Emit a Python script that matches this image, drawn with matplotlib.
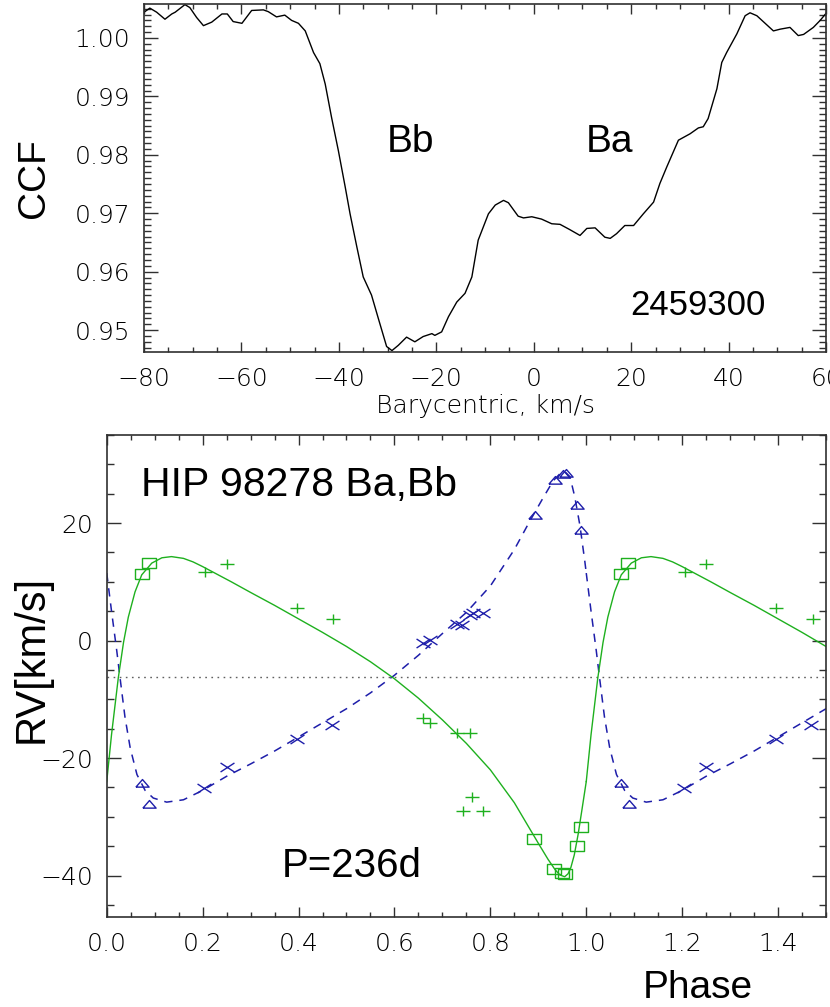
import numpy as np
import matplotlib
matplotlib.use('Agg')
from matplotlib import pyplot as plt
from matplotlib.path import Path
from matplotlib.ticker import MultipleLocator, FormatStrFormatter

# CCF profile (velocity in km/s, CCF value)
ccf_v = [-80.0, -78.8, -77.4, -75.7, -74.3, -73.6, -71.6, -70.6, -69.2, -67.8,
         -66.1, -64.0, -62.9, -61.7, -59.9, -57.9, -55.5, -54.5, -52.8, -51.1,
         -49.7, -48.3, -46.9, -45.2, -43.9, -42.8, -41.5, -40.1, -38.7, -37.7,
         -36.3, -35.0, -33.3, -31.9, -30.2, -29.1, -27.8, -26.1, -24.4, -22.7,
         -20.9, -20.3, -18.9, -17.5, -15.8, -14.1, -12.7, -11.4, -9.3, -7.9,
         -6.2, -5.2, -3.2, -2.1, -0.4, 1.6, 3.7, 5.4, 7.4, 9.5,
         10.9, 12.6, 14.6, 15.7, 17.0, 18.7, 20.5, 22.5, 24.6, 25.9,
         27.3, 29.7, 32.1, 33.8, 34.8, 35.8, 37.6, 38.6, 39.6, 41.7,
         43.4, 44.4, 45.8, 49.2, 50.6, 52.6, 54.3, 55.4, 57.4, 58.8,
         60.0]
ccf_val = [1.0044, 1.0051, 1.0044, 1.0032, 1.0041, 1.0044, 1.0057, 1.0052, 1.0035, 1.0021,
           1.0027, 1.0041, 1.0041, 1.0028, 1.0025, 1.0047, 1.0048, 1.0045, 1.0036, 1.0039,
           1.0030, 1.0025, 1.0012, 0.9975, 0.9956, 0.9921, 0.9864, 0.9807, 0.9745, 0.9699,
           0.9642, 0.9591, 0.9560, 0.9520, 0.9472, 0.9465, 0.9474, 0.9488, 0.9480, 0.9489,
           0.9494, 0.9491, 0.9497, 0.9523, 0.9548, 0.9563, 0.9591, 0.9654, 0.9699, 0.9714,
           0.9722, 0.9718, 0.9695, 0.9692, 0.9694, 0.9690, 0.9682, 0.9681, 0.9672, 0.9662,
           0.9674, 0.9675, 0.9659, 0.9657, 0.9665, 0.9679, 0.9679, 0.9699, 0.9719, 0.9751,
           0.9779, 0.9825, 0.9836, 0.9846, 0.9848, 0.9862, 0.9913, 0.9958, 0.9975, 1.0007,
           1.0038, 1.0043, 1.0038, 1.0012, 1.0015, 1.0018, 1.0004, 1.0006, 1.0018, 1.0030,
           1.0042]

# orbit curves over one cycle (phase, RV km/s), Ba solid green, Bb dashed blue
ba_phase = [0.000, 0.010, 0.024, 0.035, 0.045, 0.059, 0.073, 0.094, 0.115, 0.135,
            0.160, 0.180, 0.200, 0.230, 0.260, 0.300, 0.350, 0.400, 0.450, 0.500,
            0.550, 0.600, 0.650, 0.700, 0.750, 0.800, 0.850, 0.900, 0.920, 0.935,
            0.945, 0.955, 0.962, 0.968, 0.975, 0.983, 0.991, 1.000]
ba_rv = [-24.0, -16.0, -6.4, -0.3, 4.0, 8.3, 11.2, 13.2, 14.1, 14.3,
         14.0, 13.4, 12.6, 11.3, 10.0, 8.2, 6.0, 3.7, 1.4, -1.0,
         -3.6, -6.5, -9.8, -13.5, -17.5, -22.0, -27.6, -34.5, -37.2, -39.0,
         -39.9, -40.2, -39.7, -38.6, -36.5, -33.0, -28.8, -24.0]
bb_phase = [0.000, 0.010, 0.021, 0.028, 0.038, 0.049, 0.063, 0.080, 0.097, 0.125,
            0.160, 0.200, 0.250, 0.300, 0.350, 0.400, 0.450, 0.500, 0.550, 0.600,
            0.650, 0.700, 0.750, 0.800, 0.850, 0.882, 0.910, 0.931, 0.945, 0.955,
            0.966, 0.976, 0.987, 0.997, 1.000]
bb_rv = [11.5, 5.0, -1.8, -6.5, -13.0, -18.3, -22.8, -25.5, -26.8, -27.5,
         -27.1, -25.5, -23.1, -21.0, -18.8, -16.4, -14.0, -11.6, -8.9, -5.9,
         -2.5, 1.2, 4.8, 9.3, 15.5, 20.3, 24.3, 27.2, 28.4, 28.8,
         27.9, 24.5, 19.5, 13.5, 11.5]
gamma = -6.2

# measured velocities
sq_phase = [0.073, 0.088, 0.891, 0.933, 0.950, 0.955, 0.980, 0.989]
sq_rv = [11.3, 13.2, -33.7, -38.9, -39.6, -39.8, -35.0, -31.7]
tri_phase = [0.073, 0.089, 0.893, 0.935, 0.952, 0.957, 0.980, 0.990]
tri_rv = [-24.3, -27.8, 21.4, 27.4, 28.4, 28.6, 23.1, 18.9]
plus_phase = [0.205, 0.250, 0.396, 0.472, 0.660, 0.675, 0.730, 0.757, 0.742, 0.761, 0.785]
plus_rv = [11.6, 13.0, 5.6, 3.6, -13.2, -14.1, -15.7, -15.7, -29.0, -26.6, -29.0]
cross_phase = [0.203, 0.250, 0.396, 0.469, 0.660, 0.674, 0.730, 0.740, 0.757, 0.764, 0.785]
cross_rv = [-25.1, -21.5, -16.8, -14.4, -0.4, 0.1, 2.8, 2.7, 4.4, 4.7, 4.7]

green = '#1eb01e'
blue = '#1e1eaa'
frame = '#303030'
tickfont = dict(family='DejaVu Sans', weight='light')
bigfont = dict(family='Liberation Sans')

plt.rcParams['lines.scale_dashes'] = False
plt.rcParams['axes.edgecolor'] = frame
plt.rcParams['axes.linewidth'] = 1.2

# IDL-like plot symbols
rect = Path([(-1.3, -0.9), (1.3, -0.9), (1.3, 0.9), (-1.3, 0.9), (-1.3, -0.9)])
tri = Path([(-1.0, -0.55), (1.0, -0.55), (0.0, 0.6), (-1.0, -0.55)])
plus = Path([(-1, 0), (1, 0), (0, -0.8), (0, 0.8)],
            [Path.MOVETO, Path.LINETO, Path.MOVETO, Path.LINETO])
cross = Path([(-1, -0.65), (1, 0.65), (-1, 0.65), (1, -0.65)],
             [Path.MOVETO, Path.LINETO, Path.MOVETO, Path.LINETO])

fig = plt.figure(figsize=(8.3, 10.07), dpi=100)

# top panel: cross-correlation function
ax1 = fig.add_axes([0.1735, 0.6507, 0.8217, 0.3453])
ax1.plot(ccf_v, ccf_val, color='black', lw=1.0)
ax1.set_xlim(-80, 60)
ax1.set_ylim(0.9463, 1.0058)
ax1.xaxis.set_major_locator(MultipleLocator(20))
ax1.xaxis.set_minor_locator(MultipleLocator(5))
ax1.yaxis.set_major_locator(MultipleLocator(0.01))
ax1.yaxis.set_minor_locator(MultipleLocator(0.001))
ax1.yaxis.set_major_formatter(FormatStrFormatter('%.2f'))
ax1.tick_params(axis='x', which='major', length=7, pad=11)
ax1.tick_params(axis='x', which='minor', length=3.5)
ax1.tick_params(axis='y', which='major', length=10, pad=10)
ax1.tick_params(axis='y', which='minor', length=5)
ax1.set_xlabel('Barycentric, km/s', fontsize=18, **tickfont)
ax1.xaxis.set_label_coords(0.5, -0.122)
ax1.set_ylabel('CCF', fontsize=28, va='center', **bigfont)
ax1.yaxis.set_label_coords(-0.161, 0.5)
ax1.text(-25.2, 0.9805, 'Bb', fontsize=28, ha='center', va='baseline', **bigfont)
ax1.text(15.5, 0.9805, 'Ba', fontsize=28, ha='center', va='baseline', **bigfont)
ax1.text(33.8, 0.9526, '2459300', fontsize=25, ha='center', va='baseline', **bigfont)

# bottom panel: radial velocity curve, phase 0..1.5
ax2 = fig.add_axes([0.1286, 0.0897, 0.8666, 0.4783])
ax2.axhline(gamma, color='#606060', lw=1.0, dashes=(1.2, 3.2))
for shift in (0, 1):
    ax2.plot(np.array(bb_phase) + shift, bb_rv, color=blue, lw=1.1, dashes=(6, 5))
    ax2.plot(np.array(ba_phase) + shift, ba_rv, color=green, lw=1.0)
    ax2.plot(np.array(sq_phase) + shift, sq_rv, ls='none', marker=rect, ms=9.5,
             mfc='none', mec=green, mew=1.0)
    ax2.plot(np.array(plus_phase) + shift, plus_rv, ls='none', marker=plus, ms=9.5,
             mec=green, mew=1.0)
    ax2.plot(np.array(tri_phase) + shift, tri_rv, ls='none', marker=tri, ms=9.5,
             mfc='none', mec=blue, mew=1.0)
    ax2.plot(np.array(cross_phase) + shift, cross_rv, ls='none', marker=cross, ms=10,
             mec=blue, mew=1.0)
ax2.set_xlim(0, 1.5)
ax2.set_ylim(-47, 35)
ax2.xaxis.set_major_locator(MultipleLocator(0.2))
ax2.xaxis.set_minor_locator(MultipleLocator(0.05))
ax2.xaxis.set_major_formatter(FormatStrFormatter('%.1f'))
ax2.yaxis.set_major_locator(MultipleLocator(20))
ax2.yaxis.set_minor_locator(MultipleLocator(5))
ax2.tick_params(axis='x', which='major', length=7, pad=11)
ax2.tick_params(axis='x', which='minor', length=3.5)
ax2.tick_params(axis='y', which='major', length=10, pad=10)
ax2.tick_params(axis='y', which='minor', length=5)
ax2.set_xlabel('Phase', fontsize=28, va='center', **bigfont)
ax2.xaxis.set_label_coords(0.822, -0.148)
ax2.set_ylabel('RV[km/s]', fontsize=30, va='center', **bigfont)
ax2.yaxis.set_label_coords(-0.104, 0.535)
ax2.text(0.047, 0.873, 'HIP 98278 Ba,Bb', fontsize=29.5, transform=ax2.transAxes, **bigfont)
ax2.text(0.511, -40.2, 'P=236d', fontsize=29, ha='center', va='baseline', **bigfont)

for ax in (ax1, ax2):
    ax.tick_params(which='both', direction='in', top=True, right=True,
                   color=frame, width=1.0, labelsize=18)
    for lab in ax.get_xticklabels() + ax.get_yticklabels():
        lab.set_fontweight('light')

fig.savefig('out.png', dpi=100)
